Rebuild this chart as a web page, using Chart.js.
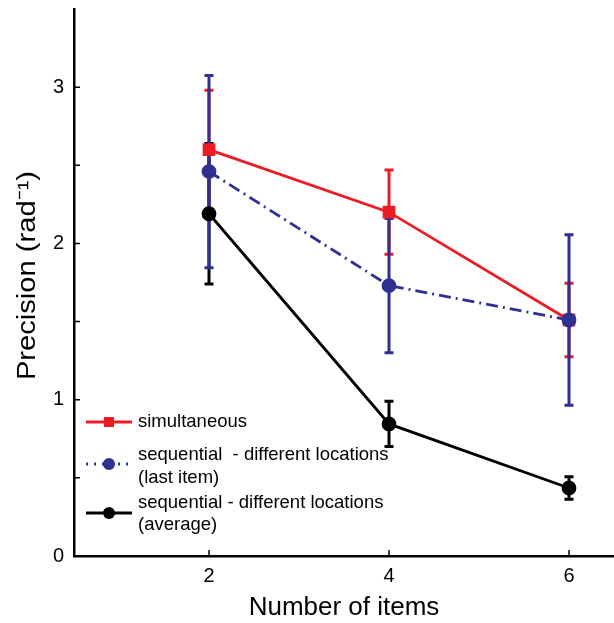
<!DOCTYPE html>
<html>
<head>
<meta charset="utf-8">
<script src="https://cdn.jsdelivr.net/npm/chart.js@4"></script>
<style>
  body { margin: 0; background: #fff; }
  canvas { display: block; }
</style>
</head>
<body>
<canvas id="grafico" width="614" height="623"></canvas>
<script>
// dados
const xValues = [2, 4, 6];
const xTicks = [2, 4, 6];
const yTicks = [0, 0.5, 1, 1.5, 2, 2.5, 3];
const yTickLabels = ['0', '', '1', '', '2', '', '3'];

const simultaneous = [2.6, 2.2, 1.51];
const simultaneousErr = [0.38, 0.27, 0.235];
const lastItem = [2.46, 1.73, 1.51];
const lastItemErr = [0.615, 0.43, 0.546];
const average = [2.19, 0.845, 0.435];
const averageErr = [0.45, 0.145, 0.072];

const seriesNames = [
  ['simultaneous'],
  ['sequential  - different locations', '(last item)'],
  ['sequential - different locations', '(average)']
];
const yTitle = 'Precision (rad⁻¹)';
const xTitle = 'Number of items';

const RED = '#ED1C24';
const BLUE = '#2E3192';
const BLACK = '#000000';
const FONT = '"Liberation Sans", Arial, Helvetica, sans-serif';

function pontos(ys) {
  return xValues.map((x, i) => ({ x: x, y: ys[i] }));
}

// barras de erro, desenhadas antes das linhas
const errorBars = {
  id: 'errorBars',
  beforeDatasetsDraw(chart) {
    const ctx = chart.ctx;
    const xs = chart.scales.x;
    const ys = chart.scales.y;
    const grupos = [
      { v: simultaneous, e: simultaneousErr, c: RED },
      { v: average, e: averageErr, c: BLACK },
      { v: lastItem, e: lastItemErr, c: BLUE }
    ];
    ctx.save();
    ctx.lineWidth = 3;
    grupos.forEach(g => {
      ctx.strokeStyle = g.c;
      xValues.forEach((x, i) => {
        const px = xs.getPixelForValue(x);
        const top = ys.getPixelForValue(g.v[i] + g.e[i]);
        const bot = ys.getPixelForValue(g.v[i] - g.e[i]);
        ctx.beginPath();
        ctx.moveTo(px, top);
        ctx.lineTo(px, bot);
        ctx.moveTo(px - 4.5, top);
        ctx.lineTo(px + 4.5, top);
        ctx.moveTo(px - 4.5, bot);
        ctx.lineTo(px + 4.5, bot);
        ctx.stroke();
      });
    });
    ctx.restore();
  }
};

// marcas dos eixos para dentro, titulo do eixo y e legenda
const extras = {
  id: 'extras',
  afterDraw(chart) {
    const ctx = chart.ctx;
    const area = chart.chartArea;
    const xs = chart.scales.x;
    const ys = chart.scales.y;
    ctx.save();
    ctx.strokeStyle = BLACK;
    ctx.lineWidth = 1.5;
    ctx.beginPath();
    ys.ticks.forEach(t => {
      const py = ys.getPixelForValue(t.value);
      if (t.value === 0) return;
      ctx.moveTo(area.left, py);
      ctx.lineTo(area.left + 6, py);
    });
    xs.ticks.forEach(t => {
      const px = xs.getPixelForValue(t.value);
      ctx.moveTo(px, area.bottom);
      ctx.lineTo(px, area.bottom - 6);
    });
    ctx.stroke();

    // titulo y (um pouco esticado, como no original)
    ctx.save();
    ctx.translate(28, (area.top + area.bottom) / 2 - 7);
    ctx.rotate(-Math.PI / 2);
    ctx.scale(1.12, 1);
    ctx.fillStyle = BLACK;
    ctx.font = '26px ' + FONT;
    ctx.textAlign = 'center';
    ctx.textBaseline = 'middle';
    ctx.fillText(yTitle, 0, 0);
    ctx.restore();

    // legenda
    const lx = area.left + 12;
    const itens = [
      { c: RED, dash: [], shape: 'rect', y: 422, texto: [422] },
      { c: BLUE, dash: [2, 6], shape: 'circle', y: 464, texto: [455, 478] },
      { c: BLACK, dash: [], shape: 'circle', y: 513, texto: [503, 525] }
    ];
    ctx.font = '18.5px ' + FONT;
    ctx.textBaseline = 'middle';
    ctx.textAlign = 'left';
    itens.forEach((it, k) => {
      ctx.strokeStyle = it.c;
      ctx.fillStyle = it.c;
      ctx.lineWidth = 2.8;
      ctx.setLineDash(it.dash);
      ctx.beginPath();
      ctx.moveTo(lx, it.y);
      ctx.lineTo(lx + 46, it.y);
      ctx.stroke();
      ctx.setLineDash([]);
      ctx.beginPath();
      if (it.shape === 'rect') {
        ctx.rect(lx + 23 - 5, it.y - 5, 10, 10);
      } else {
        ctx.arc(lx + 23, it.y, 6, 0, Math.PI * 2);
      }
      ctx.fill();
      ctx.fillStyle = BLACK;
      seriesNames[k].forEach((linha, j) => {
        ctx.fillText(linha, lx + 52, it.texto[j]);
      });
    });
    ctx.restore();
  }
};

const ctx = document.getElementById('grafico').getContext('2d');
new Chart(ctx, {
  type: 'line',
  data: {
    datasets: [
      {
        label: seriesNames[0].join(' '),
        data: pontos(simultaneous),
        borderColor: RED,
        backgroundColor: RED,
        borderWidth: 2.8,
        pointStyle: 'rect',
        pointRadius: 7,
        order: 2
      },
      {
        label: seriesNames[1].join(' '),
        data: pontos(lastItem),
        borderColor: BLUE,
        backgroundColor: BLUE,
        borderWidth: 2.8,
        borderDash: [12, 5, 2, 5],
        pointRadius: 6,
        order: 0
      },
      {
        label: seriesNames[2].join(' '),
        data: pontos(average),
        borderColor: BLACK,
        backgroundColor: BLACK,
        borderWidth: 2.8,
        pointRadius: 6,
        order: 1
      }
    ]
  },
  options: {
    responsive: false,
    animation: false,
    events: [],
    layout: { autoPadding: false, padding: { top: 9, right: 0, left: 0, bottom: 0 } },
    plugins: {
      legend: { display: false },
      tooltip: { enabled: false }
    },
    scales: {
      x: {
        type: 'linear',
        min: 0.5,
        max: 6.5,
        afterBuildTicks(scale) {
          scale.ticks = xTicks.map(v => ({ value: v }));
        },
        afterFit(scale) {
          scale.height = 67;
          scale.paddingLeft = 0;
          scale.paddingRight = 0;
        },
        grid: { display: false, drawTicks: false },
        border: { display: true, color: BLACK, width: 2.5 },
        ticks: {
          color: BLACK,
          padding: 8,
          font: { family: FONT, size: 20 },
          callback: v => String(v)
        },
        title: {
          display: true,
          text: xTitle,
          color: BLACK,
          font: { family: FONT, size: 26 },
          padding: { top: 0, bottom: 0 }
        }
      },
      y: {
        min: 0,
        max: 3.5,
        afterBuildTicks(scale) {
          scale.ticks = yTicks.map(v => ({ value: v }));
        },
        afterFit(scale) {
          scale.width = 74;
          scale.paddingTop = 0;
          scale.paddingBottom = 0;
        },
        grid: { display: false, drawTicks: false },
        border: { display: true, color: BLACK, width: 2.5 },
        ticks: {
          color: BLACK,
          padding: 10,
          font: { family: FONT, size: 20 },
          callback: (v, i) => yTickLabels[i]
        },
        title: { display: false }
      }
    }
  },
  plugins: [errorBars, extras]
});
</script>
</body>
</html>
